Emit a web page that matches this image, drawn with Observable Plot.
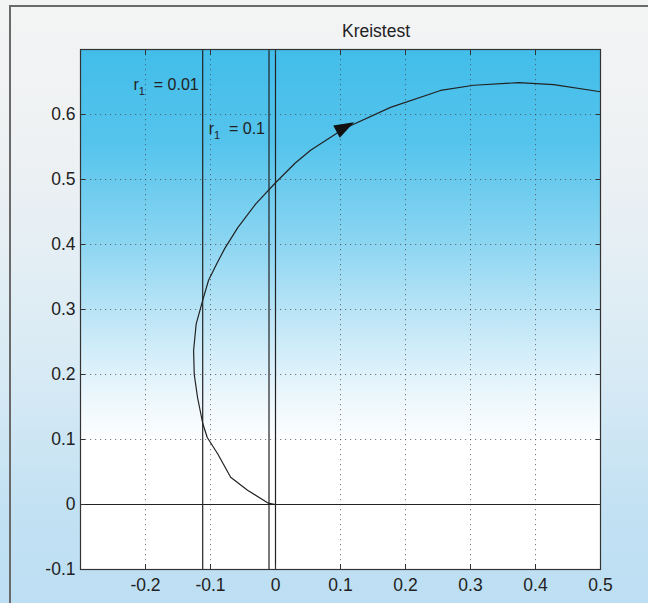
<!DOCTYPE html>
<html>
<head>
<meta charset="utf-8">
<script src="https://cdn.jsdelivr.net/npm/d3@7"></script>
<script src="https://cdn.jsdelivr.net/npm/@observablehq/plot@0.6"></script>
<style>
  html, body { margin: 0; padding: 0; background: #fff; overflow: hidden; width: 648px; height: 603px; }
  #fig {
    position: relative; width: 648px; height: 603px; overflow: hidden;
    background: linear-gradient(to bottom, #f3f4f4 0%, #eef1f3 25%, #d9ebf5 60%, #c2e1f3 85%, #bddff3 100%);
    font-family: "Liberation Sans", Arial, Helvetica, sans-serif;
  }
  .fl { position: absolute; background: #6a6a6a; }
  #flh { left: 9px; top: 5px; width: 639px; height: 2px; }
  #flv { left: 9px; top: 5px; width: 2px; height: 598px; }
  #title { position: absolute; left: 306px; width: 140px; top: 21px; text-align: center;
    font-size: 17.5px; color: #222; }
  #chart { position: absolute; left: 0; top: 0; width: 648px; height: 603px; overflow: hidden; }
  #chart svg { display: block; }
</style>
</head>
<body>
<div id="fig">
  <div class="fl" id="flh"></div>
  <div class="fl" id="flv"></div>
  <div id="chart"></div>
  <div id="title">Kreistest</div>
</div>
<script>
// Curve (locus) points
const curveX = [0, -0.011, -0.043, -0.069, -0.089, -0.105, -0.112, -0.120, -0.125, -0.126, -0.122, -0.112, -0.103, -0.090, -0.078, -0.058, -0.030, 0.000, 0.030, 0.054, 0.105, 0.177, 0.254, 0.305, 0.374, 0.428, 0.500];
const curveY = [0, 0.002, 0.022, 0.042, 0.078, 0.103, 0.125, 0.165, 0.200, 0.237, 0.278, 0.314, 0.345, 0.371, 0.394, 0.426, 0.463, 0.495, 0.525, 0.545, 0.578, 0.611, 0.637, 0.645, 0.649, 0.646, 0.635];
// vertical marker lines
const vLines = [-0.112, -0.01, 0];
// annotation labels
const labelText = ["r1 = 0.01", "r1 = 0.1"];
const labelX = [-0.112, -0.01];
const labelY = [0.645, 0.578];
// direction arrow on the curve
const arrowX = [0.106];
const arrowY = [0.580];
// ticks
const xTicks = [-0.2, -0.1, 0, 0.1, 0.2, 0.3, 0.4, 0.5];
const yTicks = [-0.1, 0, 0.1, 0.2, 0.3, 0.4, 0.5, 0.6];

const curve = curveX.map((x, i) => ({x, y: curveY[i]}));
const labels = labelText.map((t, i) => ({t, x: labelX[i], y: labelY[i]}));
const arrow = arrowX.map((x, i) => ({x, y: arrowY[i]}));

const fmt = d => String(d);
const ang = -28 * Math.PI / 180;
const arrowSymbol = {
  draw(ctx, size) {
    const s = Math.sqrt(size) / 10;
    const pts = [[11 * s, 0], [-9 * s, -7 * s], [-9 * s, 7 * s]];
    const c = Math.cos(ang), sn = Math.sin(ang);
    pts.forEach(([px, py], i) => {
      const X = px * c - py * sn, Y = px * sn + py * c;
      if (i === 0) ctx.moveTo(X, Y); else ctx.lineTo(X, Y);
    });
    ctx.closePath();
  }
};

const ink = "#222";
const font = "'Liberation Sans', Arial, Helvetica, sans-serif";
const plot = Plot.plot({
  width: 648, height: 603,
  marginLeft: 80, marginRight: 48, marginTop: 49, marginBottom: 34,
  x: {domain: [-0.3, 0.5]},
  y: {domain: [-0.1, 0.7]},
  style: {background: "transparent", fontFamily: font, fontSize: "17.5px", color: ink},
  marks: [
    Plot.frame({fill: "url(#plotbg)", stroke: null}),
    Plot.gridX({ticks: xTicks, stroke: "#444", strokeOpacity: 0.7, strokeDasharray: "1.2,3.8"}),
    Plot.gridY({ticks: yTicks, stroke: "#444", strokeOpacity: 0.7, strokeDasharray: "1.2,3.8"}),
    Plot.ruleY([0], {stroke: ink, strokeWidth: 1.2}),
    Plot.ruleX(vLines, {stroke: ink, strokeWidth: 1.2}),
    Plot.line(curve, {x: "x", y: "y", stroke: ink, strokeWidth: 1.2}),
    Plot.dot(arrow, {x: "x", y: "y", symbol: arrowSymbol, r: 5.6, fill: "#111", stroke: "none"}),
    Plot.text(labels, {x: "x", y: "y", text: "t", textAnchor: "end", dx: -4, fill: ink, fontSize: 16, className: "rlab"}),
    Plot.frame({stroke: "#333", strokeWidth: 1.2}),
    Plot.axisX({ticks: xTicks, anchor: "bottom", tickSize: -5, tickPadding: 14, tickFormat: fmt, label: null, stroke: "#333", fontSize: 17.5, fill: ink}),
    Plot.axisX({ticks: xTicks, anchor: "top", tickSize: -5, tickFormat: () => "", label: null, stroke: "#333"}),
    Plot.axisY({ticks: yTicks, anchor: "left", tickSize: -5, tickPadding: 10, tickFormat: fmt, label: null, stroke: "#333", fontSize: 17.5, fill: ink}),
    Plot.axisY({ticks: yTicks, anchor: "right", tickSize: -5, tickFormat: () => "", label: null, stroke: "#333"})
  ]
});

// gradient for plot background
const svg = d3.select(plot);
const defs = svg.insert("defs", ":first-child");
const g = defs.append("linearGradient").attr("id", "plotbg").attr("x1", 0).attr("y1", 0).attr("x2", 0).attr("y2", 1);
[[0, "#42bdea"], [0.18, "#55c4ec"], [0.36, "#88d4f1"], [0.52, "#bfe6f7"], [0.66, "#eaf6fc"], [0.76, "#ffffff"], [1, "#ffffff"]]
  .forEach(([o, c]) => g.append("stop").attr("offset", o).attr("stop-color", c));

// subscript for the r1 labels
svg.selectAll(".rlab text").each(function() {
  const t = d3.select(this);
  const s = t.text();
  const rest = s.slice(2);
  t.text(null);
  t.append("tspan").text("r");
  t.append("tspan").attr("dy", 5).attr("font-size", 11).text("1");
  t.append("tspan").attr("dy", -5).text("\u00a0" + rest);
});

document.getElementById("chart").appendChild(plot);
</script>
</body>
</html>
